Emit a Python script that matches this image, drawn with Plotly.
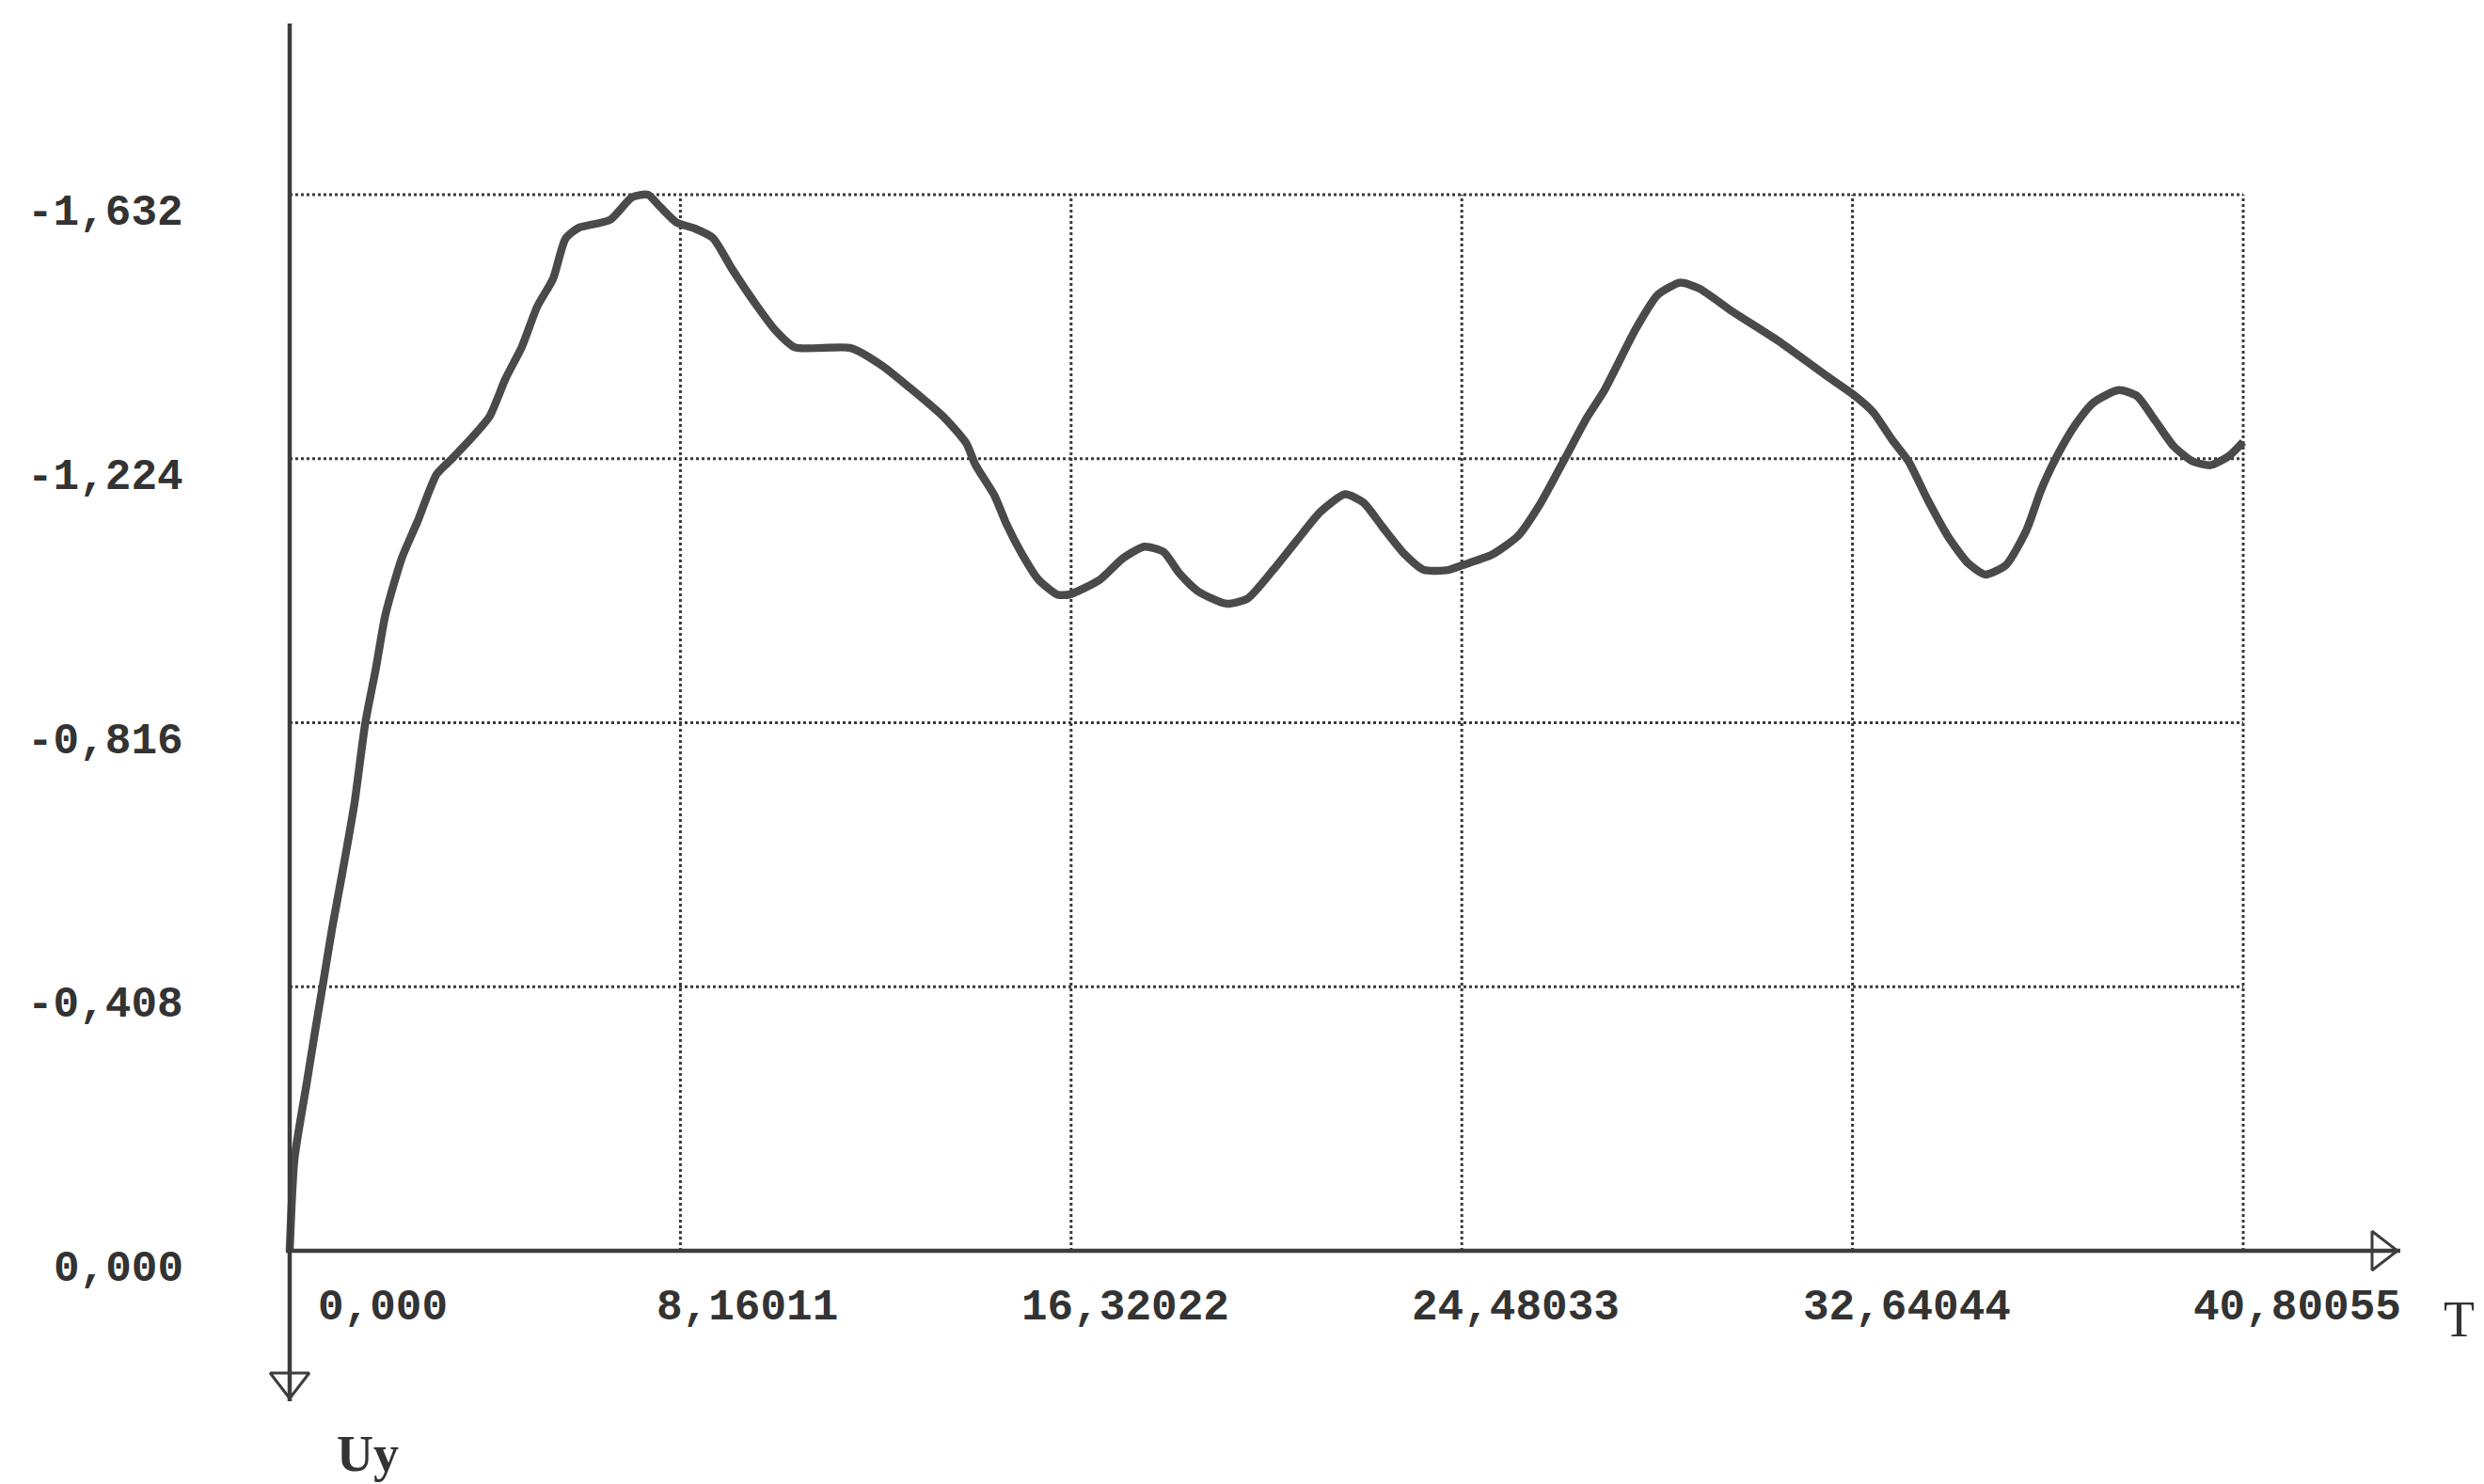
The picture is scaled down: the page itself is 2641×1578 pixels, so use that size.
import plotly.graph_objects as go

# Response Uy over time T
T = [0.0, 0.1, 0.36, 0.55, 0.69, 0.89, 1.09, 1.35, 1.58, 1.80, 2.00, 2.34, 2.67,
     3.07, 3.39, 3.86, 4.18, 4.51, 4.85, 5.17, 5.50, 5.76, 6.04, 6.69, 7.15, 7.48,
     7.74, 8.08, 8.45, 8.84, 9.24, 9.76, 10.16, 10.55, 11.72, 12.37, 13.01, 13.68,
     14.13, 14.32, 14.72, 14.97, 15.30, 15.64, 16.03, 16.28, 16.92, 17.40, 17.85,
     18.25, 18.58, 18.97, 19.56, 20.01, 20.54, 21.05, 21.53, 22.04, 22.43, 22.82,
     23.29, 23.69, 24.20, 24.48, 25.12, 25.66, 26.10, 26.64, 27.09, 27.46, 28.11,
     28.57, 29.04, 29.44, 30.10, 31.09, 32.08, 32.64, 33.07, 33.47, 33.81, 34.20,
     34.66, 35.06, 35.42, 35.85, 36.27, 36.58, 36.91, 37.30, 37.68, 38.20, 38.58,
     38.97, 39.35, 39.74, 40.12, 40.50, 40.80]
UY = [0.0, -0.142, -0.261, -0.348, -0.41, -0.50, -0.58, -0.69, -0.816, -0.90, -0.983,
      -1.070, -1.127, -1.200, -1.224, -1.261, -1.290, -1.348, -1.397, -1.459, -1.502,
      -1.564, -1.581, -1.593, -1.628, -1.632, -1.613, -1.589, -1.580, -1.565, -1.517,
      -1.460, -1.421, -1.396, -1.395, -1.368, -1.330, -1.287, -1.248, -1.215, -1.167,
      -1.123, -1.076, -1.037, -1.014, -1.014, -1.037, -1.070, -1.088, -1.080, -1.047,
      -1.019, -1.000, -1.008, -1.052, -1.099, -1.142, -1.169, -1.156, -1.119, -1.076,
      -1.052, -1.052, -1.059, -1.076, -1.105, -1.152, -1.225, -1.287, -1.330, -1.424,
      -1.477, -1.496, -1.487, -1.453, -1.406, -1.353, -1.324, -1.296, -1.253, -1.220,
      -1.162, -1.101, -1.062, -1.045, -1.060, -1.113, -1.176, -1.228, -1.277, -1.311,
      -1.330, -1.321, -1.282, -1.243, -1.220, -1.214, -1.228, -1.250]

X_TICKS = [0.0, 8.16011, 16.32022, 24.48033, 32.64044, 40.80055]
X_TICK_TEXT = ["0,000", "8,16011", "16,32022", "24,48033", "32,64044", "40,80055"]
Y_TICKS = [0.0, -0.408, -0.816, -1.224, -1.632]
Y_TICK_TEXT = ["0,000", "-0,408", "-0,816", "-1,224", "-1,632"]

# Page geometry (pixels): where the grid frame sits on the page
W, H = 2641, 1578
X0_PX, XMAX_PX = 308, 2385      # T = 0 and T = last tick
YTOP_PX, Y0_PX = 207, 1330      # Uy = last tick and Uy = 0
x_last, y_last = X_TICKS[-1], Y_TICKS[-1]
kx = (XMAX_PX - X0_PX) / x_last
ky = (Y0_PX - YTOP_PX) / abs(y_last)
x_range = [-X0_PX / kx, (W - X0_PX) / kx]
y_range = [(H - Y0_PX) / ky, y_last - YTOP_PX / ky]   # Uy grows downward

INK = "#3d3d3d"
GRID = "#3a3a3a"

fig = go.Figure()

# dotted grid, bounded by the frame
shapes = []
for xv in X_TICKS[1:]:
    shapes.append(dict(type="line", xref="x", yref="y", x0=xv, x1=xv, y0=0, y1=y_last,
                       line=dict(color=GRID, width=3, dash="dot"), layer="below"))
for yv in Y_TICKS[1:]:
    shapes.append(dict(type="line", xref="x", yref="y", x0=0, x1=x_last, y0=yv, y1=yv,
                       line=dict(color=GRID, width=3, dash="dot"), layer="below"))

# axis lines with arrows
y_axis_top = y_last - 182 / ky
y_arrow_tip = 160 / ky
x_arrow_tip = (2552 - X0_PX) / kx
shapes.append(dict(type="line", xref="x", yref="y", x0=0, x1=0, y0=y_axis_top, y1=y_arrow_tip,
                   line=dict(color=INK, width=4.5)))
shapes.append(dict(type="line", xref="x", yref="y", x0=-4 / kx, x1=x_arrow_tip, y0=0, y1=0,
                   line=dict(color=INK, width=4.5)))

fig.add_trace(go.Scatter(
    x=[x_arrow_tip - 21 / kx], y=[0], mode="markers", hoverinfo="skip",
    marker=dict(symbol="triangle-right-open", size=36, color=INK, line=dict(width=3, color=INK)),
    showlegend=False))
fig.add_trace(go.Scatter(
    x=[0], y=[y_arrow_tip - 21 / ky], mode="markers", hoverinfo="skip",
    marker=dict(symbol="triangle-down-open", size=36, color=INK, line=dict(width=3, color=INK)),
    showlegend=False))

# the response curve
fig.add_trace(go.Scatter(
    x=T, y=UY, mode="lines", hoverinfo="skip", showlegend=False,
    line=dict(color="#4a4a4a", width=8.5, shape="spline", smoothing=0.6)))

label_font = dict(family="Liberation Mono", size=46, color="#333333", weight="bold")
annotations = []
for xv, txt in zip(X_TICKS, X_TICK_TEXT):
    annotations.append(dict(x=xv, y=0, xref="x", yref="y", text=txt, showarrow=False,
                            xanchor="right", yanchor="middle", xshift=170, yshift=-61,
                            font=label_font))
for yv, txt in zip(Y_TICKS, Y_TICK_TEXT):
    annotations.append(dict(x=0, y=yv, xref="x", yref="y", text=txt, showarrow=False,
                            xanchor="right", yanchor="middle", xshift=-111, yshift=-20,
                            font=label_font))
annotations.append(dict(x=0, y=0, xref="x", yref="y", text="Uy", showarrow=False,
                        xanchor="center", yanchor="middle", xshift=83, yshift=-216,
                        font=dict(family="Liberation Serif", size=54, color="#333333",
                                  weight="bold")))
annotations.append(dict(x=x_last, y=0, xref="x", yref="y", text="T", showarrow=False,
                        xanchor="center", yanchor="middle", xshift=229, yshift=-73,
                        font=dict(family="Liberation Serif", size=54, color="#333333")))

fig.update_layout(
    width=W, height=H,
    margin=dict(l=0, r=0, t=0, b=0),
    paper_bgcolor="white", plot_bgcolor="white",
    xaxis=dict(range=x_range, visible=False, fixedrange=True),
    yaxis=dict(range=y_range, visible=False, fixedrange=True),
    shapes=shapes, annotations=annotations,
    showlegend=False,
)

fig.write_html("out.html", config={"displayModeBar": False})
